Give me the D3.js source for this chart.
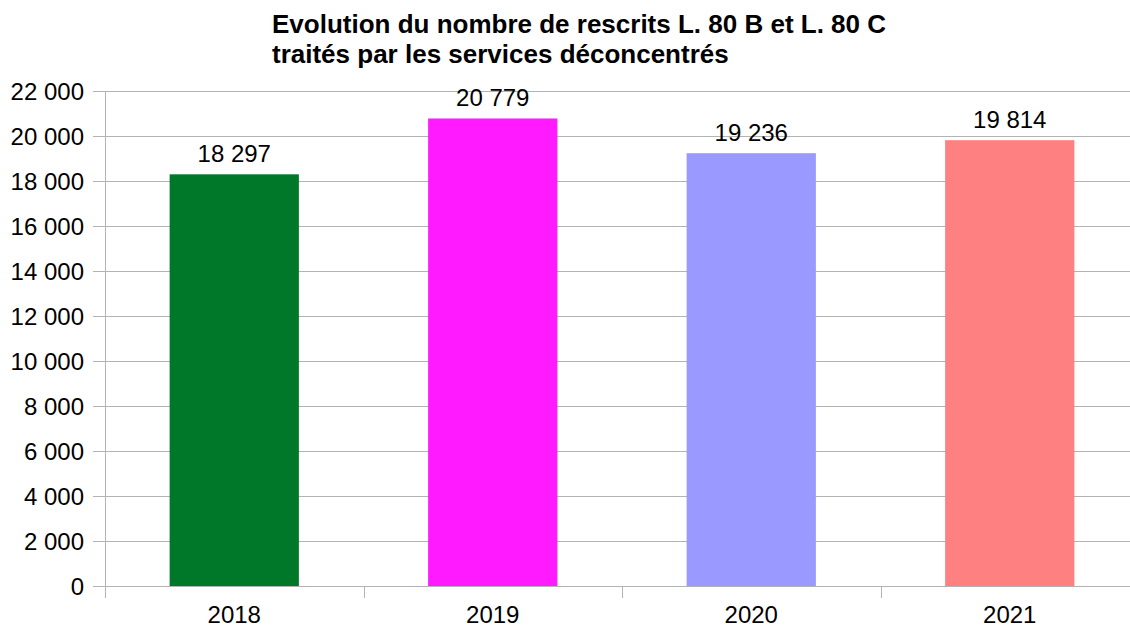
<!DOCTYPE html>
<html>
<head>
<meta charset="utf-8">
<script src="https://cdn.jsdelivr.net/npm/d3@7"></script>
<style>
body { margin: 0; background: #fff; }
text { font-family: "Liberation Sans", Arial, sans-serif; fill: #000; }
</style>
</head>
<body>
<div id="chart"></div>
<script>
var width = 1130;
var height = 628;

var years = ["2018", "2019", "2020", "2021"];
var rescrits = [18297, 20779, 19236, 19814];
var colors = ["#00782a", "#ff1aff", "#9999ff", "#ff8080"];
var yTicks = [0, 2000, 4000, 6000, 8000, 10000, 12000, 14000, 16000, 18000, 20000, 22000];
var titleLines = ["Evolution du nombre de rescrits L. 80 B et L. 80 C", "traités par les services déconcentrés"];

var margin = {top: 91, left: 105, bottom: 586, right: 1139};

var svg = d3.select("#chart")
    .append("svg")
    .attr("width", width)
    .attr("height", height);

var x = d3.scaleBand()
    .domain(years)
    .range([margin.left, margin.right])
    .paddingInner(0.5)
    .paddingOuter(0.25);

var y = d3.scaleLinear()
    .domain([0, 22000])
    .range([margin.bottom, margin.top]);

// format with space as thousand separator
var fmt = function(v){
    return d3.format(",")(v).replace(/,/g, " ");
};

// gridlines + y ticks
svg.append("g")
    .selectAll("line")
    .data(yTicks)
    .enter().append("line")
    .attr("x1", margin.left - 12)
    .attr("x2", width)
    .attr("y1", function(d){ return Math.round(y(d)) + 0.5; })
    .attr("y2", function(d){ return Math.round(y(d)) + 0.5; })
    .attr("stroke", "#b3b3b3")
    .attr("stroke-width", 1);

svg.append("g")
    .selectAll("text")
    .data(yTicks)
    .enter().append("text")
    .attr("x", 84)
    .attr("y", function(d){ return y(d); })
    .attr("dy", "0.36em")
    .attr("text-anchor", "end")
    .style("font-size", "24px")
    .text(fmt);

// y axis line
svg.append("line")
    .attr("x1", margin.left + 0.5)
    .attr("x2", margin.left + 0.5)
    .attr("y1", margin.top)
    .attr("y2", margin.bottom + 12)
    .attr("stroke", "#b3b3b3");

// x category separators
var step = x.step();
var seps = d3.range(years.length + 1).map(function(i){ return margin.left + i * step; });
svg.append("g")
    .selectAll("line")
    .data(seps.slice(1))
    .enter().append("line")
    .attr("x1", function(d){ return Math.round(d) + 0.5; })
    .attr("x2", function(d){ return Math.round(d) + 0.5; })
    .attr("y1", margin.bottom)
    .attr("y2", margin.bottom + 12)
    .attr("stroke", "#b3b3b3");

// bars
svg.append("g")
    .selectAll("rect")
    .data(years)
    .enter().append("rect")
    .attr("x", function(d){ return x(d); })
    .attr("width", x.bandwidth())
    .attr("y", function(d, i){ return y(rescrits[i]); })
    .attr("height", function(d, i){ return y(0) - y(rescrits[i]); })
    .attr("fill", function(d, i){ return colors[i]; });

// value labels
svg.append("g")
    .selectAll("text")
    .data(years)
    .enter().append("text")
    .attr("x", function(d){ return x(d) + x.bandwidth() / 2; })
    .attr("y", function(d, i){ return y(rescrits[i]) - 12; })
    .attr("text-anchor", "middle")
    .style("font-size", "24px")
    .text(function(d, i){ return fmt(rescrits[i]); });

// x labels
svg.append("g")
    .selectAll("text")
    .data(years)
    .enter().append("text")
    .attr("x", function(d){ return x(d) + x.bandwidth() / 2; })
    .attr("y", 623)
    .attr("text-anchor", "middle")
    .style("font-size", "24px")
    .text(function(d){ return d; });

// title
svg.append("g")
    .selectAll("text")
    .data(titleLines)
    .enter().append("text")
    .attr("x", 272)
    .attr("y", function(d, i){ return 33 + i * 30; })
    .style("font-size", "26px")
    .style("font-weight", "bold")
    .text(function(d){ return d; });
</script>
</body>
</html>
